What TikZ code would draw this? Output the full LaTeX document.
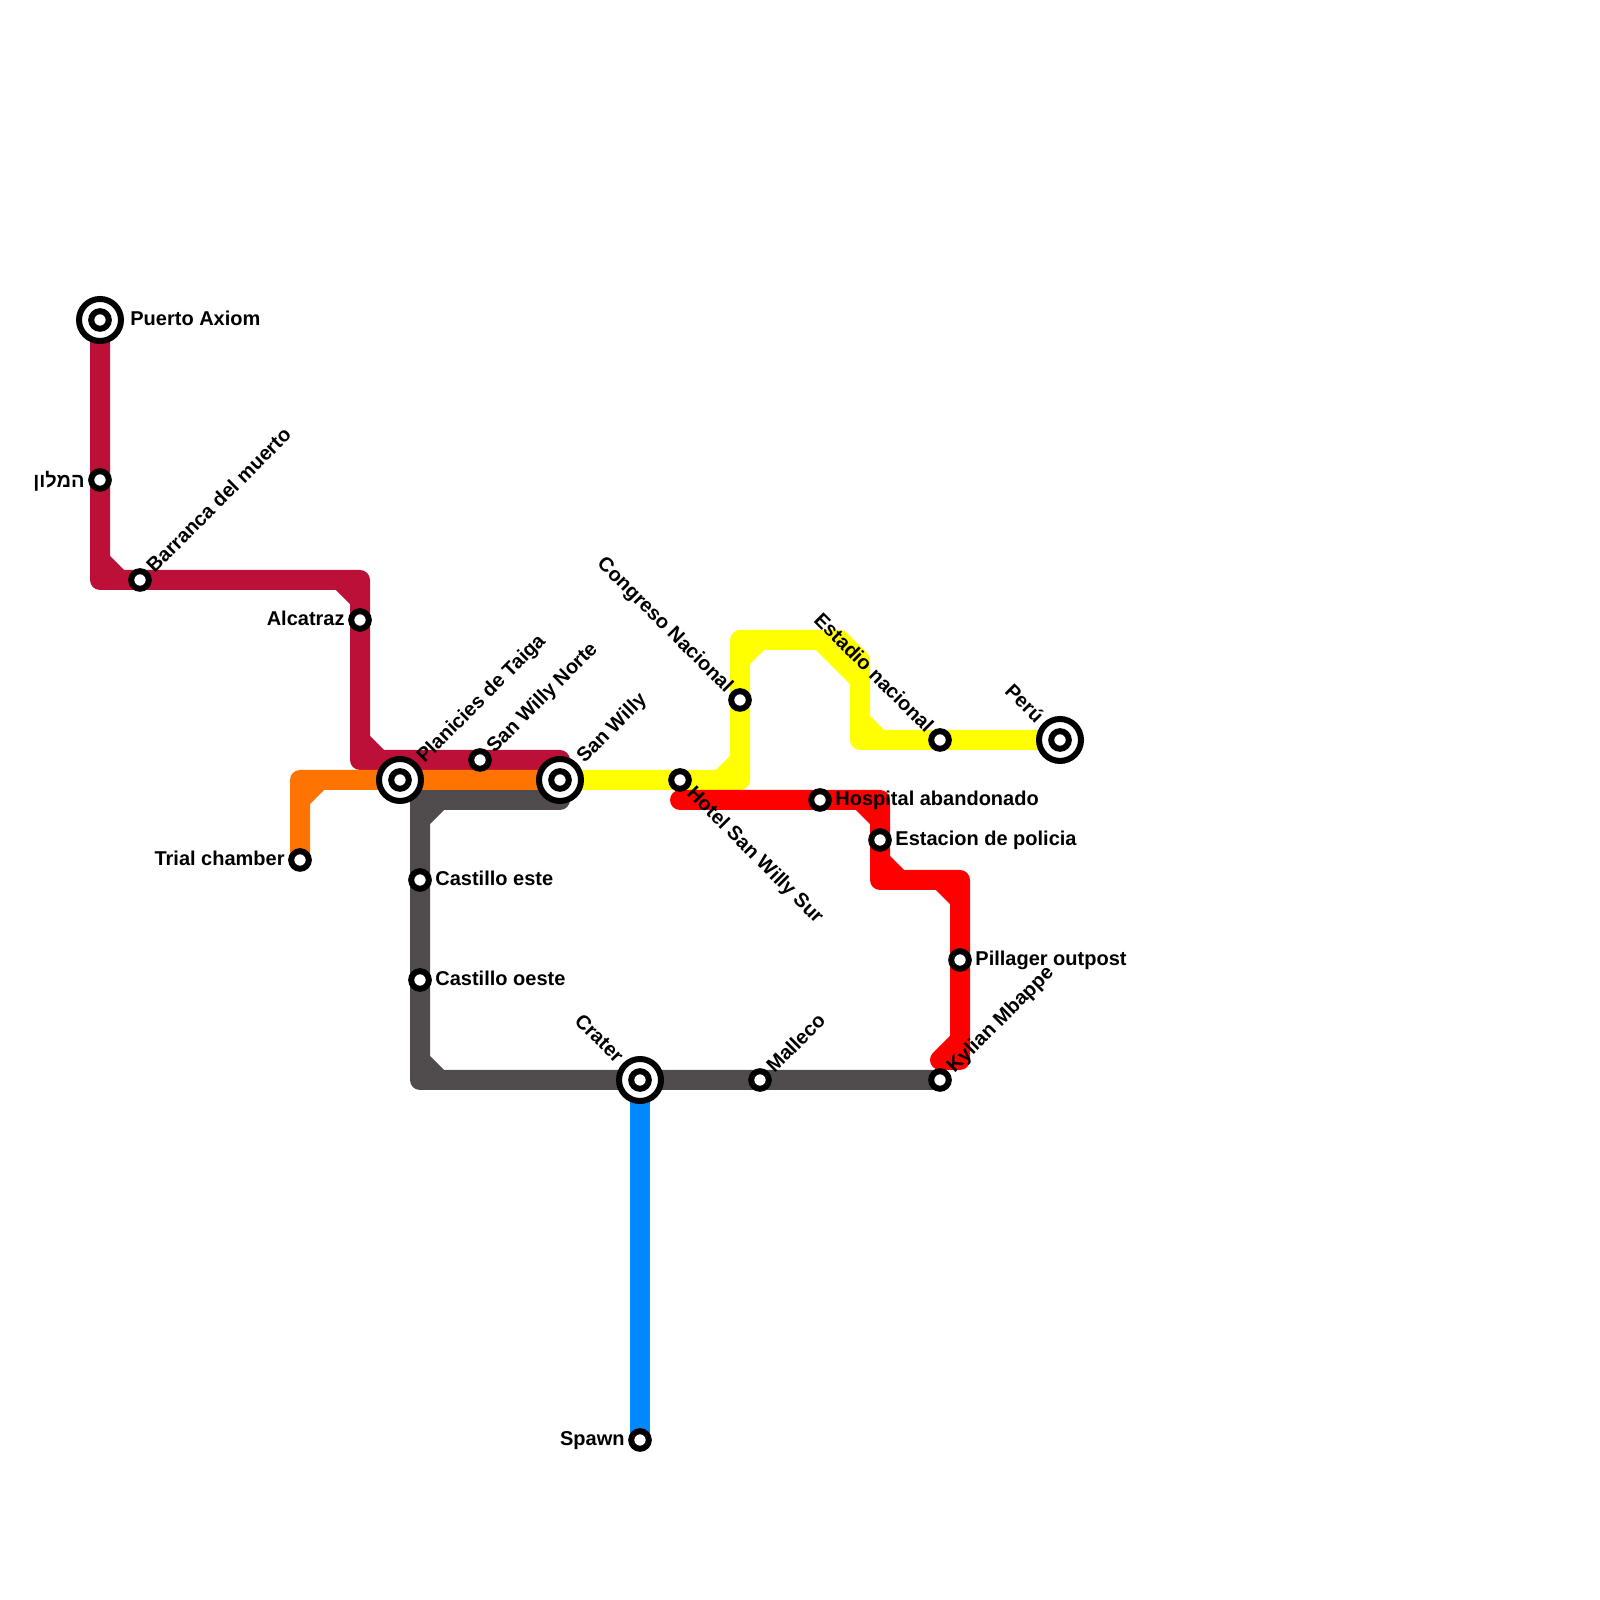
\documentclass[tikz,border=0pt]{standalone}
\usepackage{fontspec}
\setmainfont{Liberation Sans}
\newfontfamily\hebfont[Script=Hebrew]{Liberation Sans}
\TeXXeTstate=1
\usetikzlibrary{backgrounds,calc}
\definecolor{guinda}{HTML}{BD1038}
\definecolor{naranja}{HTML}{FF7300}
\definecolor{gris}{HTML}{504C4E}
\definecolor{azul}{HTML}{0088FF}
\definecolor{amarillo}{HTML}{FFFF00}
\definecolor{rojo}{HTML}{FF0000}
\tikzset{
	linea/.style={line width=10pt,line cap=round,line join=round},
	parada/.style={circle,draw=black,fill=white,line width=3pt,minimum size=8.8pt,inner sep=0pt},
	anillo/.style={circle,draw=black,fill=white,line width=3pt,minimum size=21pt,inner sep=0pt},
	rotulo/.style={font=\fontsize{10}{12}\bfseries\selectfont,inner sep=0pt,text=black}
}
\begin{document}
\begin{tikzpicture}[x=10pt,y=10pt]
	\useasboundingbox (0,0) rectangle (80,80);
	%%%Paradas
	\foreach \n/\p in {puerto/{5,64},planicies/{20,41},sanwilly/{28,41},peru/{53,43},crater/{32,26}}
	\node[anillo] (a\n) at (\p) {};
	\foreach \n/\p in {puerto/{5,64},hamelon/{5,56},barranca/{7,51},alcatraz/{18,49},planicies/{20,41},
		norte/{24,42},sanwilly/{28,41},hotel/{34,41},congreso/{37,45},hospital/{41,40},estacion/{44,38},
		estadio/{47,43},peru/{53,43},pillager/{48,32},kylian/{47,26},malleco/{38,26},crater/{32,26},
		spawn/{32,8},trial/{15,37},este/{21,36},oeste/{21,31}}
	\node[parada] (\n) at (\p) {};
	%%%Rotulos
	\foreach \n/\r/\a/\t in {puerto/1.5/0/Puerto Axiom,barranca/0.72/45/Barranca del muerto,planicies/1.42/45/Planicies de Taiga,
		norte/0.72/45/San Willy Norte,sanwilly/1.42/45/San Willy,hotel/0.72/-45/Hotel San Willy Sur,hospital/0.75/0/Hospital abandonado,
		estacion/0.75/0/Estacion de policia,pillager/0.75/0/Pillager outpost,kylian/0.72/45/Kylian Mbappe,malleco/0.72/45/Malleco,
		este/0.75/0/Castillo este,oeste/0.75/0/Castillo oeste}
	\node[rotulo,rotate=\a,anchor=base west] (r\n) at ($(\n.center)+(\a:\r)+(\a-90:0.3)$) {\t};
	\foreach \n/\r/\a/\t in {alcatraz/0.75/180/Alcatraz,trial/0.75/180/Trial chamber,spawn/0.75/180/Spawn,
		congreso/0.72/135/Congreso Nacional,estadio/0.72/135/Estadio nacional,peru/1.42/135/Perú,crater/1.42/135/Crater,
		hamelon/0.75/180/{\raisebox{-0.8pt}{\hebfont\bfseries\beginR המלון\endR}}}
	\node[rotulo,rotate=\a-180,anchor=base east] (r\n) at ($(\n.center)+(\a:\r)+(\a-270:0.3)$) {\t};
	%%%Lineas
	\foreach \n/\p in {g1/{5,51},g2/{18,51},g3/{18,42},g4/{28,42},n1/{15,41},o1/{28,40},o2/{21,40},o3/{21,26},
		y1/{37,41},y2/{37,48},y3/{42,48},y4/{43,47},y5/{43,43},r1/{34,40},r2/{44,40},r3/{44,36},r4/{48,36},r5/{48,27},r6/{47,27}}
	\coordinate (\n) at (\p);
	\begin{scope}[on background layer]
		\draw[linea,azul] (crater.center)--(spawn.center);
		\draw[linea,guinda] (puerto.center)--(g1)--(g2)--(g3)--(g4)
		(g1)++(0,1)--++(1,-1) (g2)++(-1,0)--++(1,-1) (g3)++(0,1)--++(1,-1);
		\draw[linea,gris] (o1)--(o2)--(o3)--(kylian.center)
		(o2)++(0,-1)--++(1,1) (o3)++(0,1)--++(1,-1);
		\draw[linea,amarillo] (sanwilly.center)--(y1)--(y2)--(y3)--(y4)--(y5)--(peru.center)
		(y1)++(-1,0)--++(1,1) (y2)++(0,-1)--++(1,1) (y3)++(-1,0)--++(2,-2) (y5)++(0,1)--++(1,-1);
		\draw[linea,rojo] (r1)--(r2)--(r3)--(r4)--(r5)--(r6)
		(r2)++(-1,0)--++(1,-1) (r3)++(0,1)--++(1,-1) (r4)++(-1,0)--++(1,-1) (r5)++(-1,0)--++(1,1);
		\draw[linea,naranja] (trial.center)--(n1)--(sanwilly.center)
		(n1)++(0,-1)--++(1,1);
	\end{scope}
\end{tikzpicture}
\end{document}
